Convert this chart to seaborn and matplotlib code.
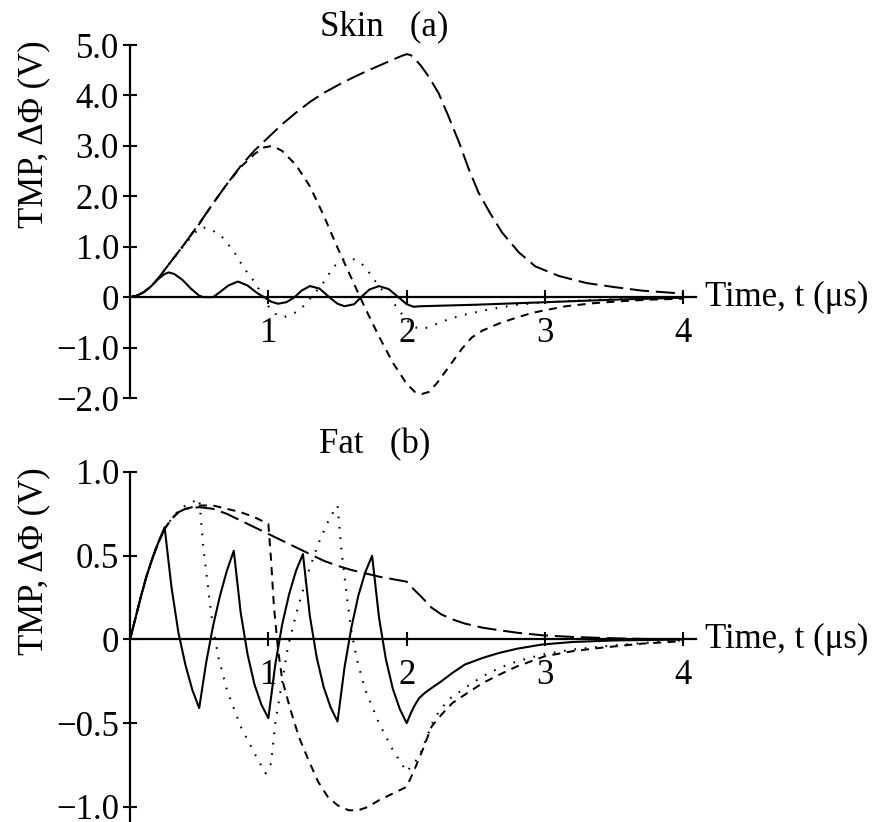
import numpy as np
import pandas as pd
import matplotlib
matplotlib.use("Agg")
import matplotlib.pyplot as plt
import seaborn as sns

# Panel (a) skin, membrane potential for 2, 1, 0.5 and 0.25 us pulses
skin_t_long = [0, 0.05, 0.1, 0.15, 0.2, 0.25, 0.3, 0.4, 0.5, 0.6, 0.7, 0.8, 0.9, 1.0, 1.1, 1.2, 1.3, 1.4,
               1.5, 1.6, 1.7, 1.8, 1.9, 1.96, 2.0, 2.03, 2.06, 2.1, 2.16, 2.23, 2.3, 2.38, 2.45, 2.52, 2.6,
               2.69, 2.81, 2.93, 3.1, 3.3, 3.5, 3.7, 3.85, 4.0]
skin_v_long = [0, 0.03, 0.1, 0.21, 0.36, 0.54, 0.72, 1.08, 1.46, 1.86, 2.24, 2.6, 2.91, 3.17, 3.43, 3.66,
               3.87, 4.05, 4.2, 4.34, 4.47, 4.59, 4.71, 4.78, 4.82, 4.8, 4.72, 4.6, 4.37, 4.05, 3.6, 3.06,
               2.53, 2.07, 1.68, 1.28, 0.89, 0.61, 0.42, 0.28, 0.2, 0.13, 0.1, 0.07]

skin_t_short = [0, 0.05, 0.1, 0.15, 0.2, 0.25, 0.3, 0.4, 0.5, 0.6, 0.7, 0.8, 0.9, 0.97, 1.03, 1.1, 1.2, 1.3,
                1.4, 1.5, 1.6, 1.7, 1.8, 1.9, 2.0, 2.06, 2.11, 2.16, 2.22, 2.3, 2.4, 2.47, 2.55, 2.67, 2.8,
                2.91, 3.0, 3.15, 3.35, 3.55, 3.75, 4.0]
skin_v_short = [0, 0.03, 0.1, 0.21, 0.36, 0.54, 0.72, 1.08, 1.45, 1.86, 2.24, 2.58, 2.84, 2.97, 3.0, 2.9, 2.62,
                2.2, 1.62, 0.98, 0.38, -0.22, -0.78, -1.3, -1.72, -1.88, -1.92, -1.88, -1.7, -1.4, -1.02,
                -0.8, -0.66, -0.52, -0.4, -0.31, -0.26, -0.18, -0.12, -0.08, -0.05, -0.03]

skin_t_dot = [0, 0.05, 0.1, 0.15, 0.2, 0.25, 0.3, 0.4, 0.5, 0.55, 0.6, 0.67, 0.75, 0.82, 0.9, 0.96, 1.0, 1.05,
              1.11, 1.18, 1.24, 1.33, 1.41, 1.47, 1.54, 1.61, 1.67, 1.72, 1.79, 1.88, 1.93, 1.99, 2.06, 2.12,
              2.2, 2.3, 2.4, 2.6, 2.8, 3.0, 3.3, 3.6, 4.0]
skin_v_dot = [0, 0.03, 0.1, 0.21, 0.36, 0.54, 0.72, 1.06, 1.37, 1.38, 1.32, 1.18, 0.91, 0.59, 0.3, 0.03, -0.18,
              -0.33, -0.4, -0.33, -0.22, 0.06, 0.33, 0.6, 0.75, 0.76, 0.68, 0.52, 0.25, -0.04, -0.2, -0.43,
              -0.6, -0.63, -0.55, -0.44, -0.36, -0.24, -0.15, -0.1, -0.06, -0.03, -0.01]

skin_t_solid = [0, 0.05, 0.1, 0.15, 0.2, 0.25, 0.28, 0.32, 0.38, 0.44, 0.5, 0.53, 0.6, 0.65, 0.71, 0.78, 0.85,
                0.92, 0.97, 1.02, 1.07, 1.13, 1.19, 1.24, 1.3, 1.37, 1.44, 1.5, 1.55, 1.62, 1.67, 1.73, 1.8,
                1.87, 1.94, 2.0, 2.05, 2.1, 2.5, 3.0, 3.5, 4.0]
skin_v_solid = [0, 0.03, 0.1, 0.21, 0.35, 0.46, 0.49, 0.46, 0.34, 0.17, 0.03, 0.0, 0.0, 0.1, 0.23, 0.31, 0.23,
                0.08, 0.0, -0.09, -0.13, -0.1, 0.0, 0.13, 0.22, 0.17, 0.0, -0.13, -0.18, -0.14, 0.0, 0.15,
                0.22, 0.16, 0.0, -0.14, -0.19, -0.18, -0.15, -0.1, -0.05, -0.01]

# Panel (b) fat
fat_t_long = [0, 0.04, 0.08, 0.12, 0.16, 0.2, 0.25, 0.3, 0.35, 0.4, 0.5, 0.6, 0.7, 0.8, 0.9, 1.0, 1.1, 1.2,
              1.3, 1.4, 1.5, 1.6, 1.7, 1.8, 1.9, 2.0, 2.05, 2.1, 2.18, 2.25, 2.33, 2.42, 2.55, 2.67, 2.8,
              2.98, 3.2, 3.5, 3.8, 4.0]
fat_v_long = [0, 0.13, 0.26, 0.38, 0.48, 0.57, 0.66, 0.72, 0.76, 0.78, 0.79, 0.78, 0.75, 0.71, 0.67, 0.63,
              0.59, 0.55, 0.51, 0.47, 0.44, 0.415, 0.395, 0.375, 0.36, 0.345, 0.3, 0.26, 0.19, 0.15, 0.12,
              0.095, 0.07, 0.055, 0.04, 0.025, 0.015, 0.007, 0.002, 0]

fat_t_short = [0, 0.04, 0.08, 0.12, 0.16, 0.2, 0.25, 0.3, 0.35, 0.4, 0.5, 0.6, 0.7, 0.8, 0.9, 1.0, 1.02, 1.04,
               1.07, 1.1, 1.16, 1.22, 1.29, 1.36, 1.43, 1.5, 1.58, 1.65, 1.72, 1.8, 1.9, 2.0, 2.06, 2.12,
               2.18, 2.25, 2.33, 2.42, 2.55, 2.67, 2.8, 3.0, 3.2, 3.4, 3.7, 4.0]
fat_v_short = [0, 0.13, 0.26, 0.38, 0.48, 0.57, 0.66, 0.72, 0.76, 0.78, 0.8, 0.8, 0.78, 0.76, 0.73, 0.69,
               0.47, 0.2, -0.06, -0.24, -0.42, -0.58, -0.72, -0.85, -0.94, -0.99, -1.02, -1.02, -1.0, -0.96,
               -0.92, -0.88, -0.77, -0.65, -0.52, -0.45, -0.38, -0.33, -0.26, -0.21, -0.16, -0.1, -0.07,
               -0.05, -0.025, -0.01]

fat_t_dot = [0, 0.04, 0.08, 0.12, 0.16, 0.2, 0.25, 0.3, 0.35, 0.4, 0.45, 0.5, 0.53, 0.57, 0.6, 0.64, 0.7,
             0.8, 0.9, 0.98, 1.02, 1.05, 1.1, 1.14, 1.2, 1.28, 1.36, 1.44, 1.5, 1.53, 1.57, 1.6, 1.64, 1.7,
             1.8, 1.9, 2.0, 2.09, 2.2, 2.3, 2.42, 2.55, 2.67, 2.8, 2.98, 3.2, 3.5, 3.8, 4.0]
fat_v_dot = [0, 0.13, 0.26, 0.38, 0.48, 0.57, 0.66, 0.72, 0.77, 0.8, 0.82, 0.84, 0.55, 0.27, 0.07, -0.11,
             -0.3, -0.52, -0.68, -0.8, -0.74, -0.5, -0.25, -0.05, 0.15, 0.38, 0.57, 0.72, 0.8, 0.52, 0.24,
             0.05, -0.12, -0.3, -0.5, -0.66, -0.79, -0.7, -0.47, -0.36, -0.29, -0.22, -0.17, -0.13, -0.09,
             -0.06, -0.035, -0.015, -0.005]

fat_t_solid = [0, 0.04, 0.08, 0.12, 0.16, 0.2, 0.25, 0.3, 0.35, 0.4, 0.45, 0.5, 0.55, 0.6, 0.65, 0.7, 0.75,
               0.8, 0.85, 0.9, 0.95, 1.0, 1.05, 1.1, 1.15, 1.2, 1.25, 1.3, 1.35, 1.4, 1.45, 1.5, 1.55, 1.6,
               1.65, 1.7, 1.75, 1.8, 1.85, 1.9, 1.95, 2.0, 2.03, 2.06, 2.09, 2.13, 2.18, 2.25, 2.33, 2.42,
               2.55, 2.67, 2.8, 2.98, 3.2, 3.5, 4.0]
fat_v_solid = [0, 0.13, 0.26, 0.38, 0.48, 0.57, 0.67, 0.31, 0.04, -0.15, -0.3, -0.41, -0.14, 0.08, 0.26, 0.41,
               0.53, 0.16, -0.09, -0.27, -0.39, -0.47, -0.15, 0.09, 0.27, 0.41, 0.51, 0.14, -0.11, -0.285,
               -0.405, -0.49, -0.17, 0.07, 0.26, 0.4, 0.5, 0.13, -0.12, -0.295, -0.415, -0.5, -0.44, -0.39,
               -0.35, -0.32, -0.29, -0.25, -0.2, -0.15, -0.11, -0.08, -0.055, -0.03, -0.015, -0.006, 0]

skin_yticks = [5, 4, 3, 2, 1, 0, -1, -2]
skin_ylabels = ["5.0", "4.0", "3.0", "2.0", "1.0", "0", "\u22121.0", "\u22122.0"]
fat_yticks = [1, 0.5, 0, -0.5, -1]
fat_ylabels = ["1.0", "0.5", "0", "\u22120.5", "\u22121.0"]
x_ticks = [1, 2, 3, 4]

sns.set_style("ticks")
plt.rcParams["font.family"] = ["Liberation Serif", "DejaVu Serif"]
plt.rcParams["text.color"] = "black"
plt.rcParams["axes.labelcolor"] = "black"

fig = plt.figure(figsize=(8.75, 8.22), dpi=100)
ax_a = fig.add_axes([0.1486, 0.5158, 0.6466, 0.4294])
ax_b = fig.add_axes([0.1486, 0.0, 0.6466, 0.4258])

styles = {
    "long": dict(linestyle=(0, (9.5, 3.4)), linewidth=1.45),
    "short": dict(linestyle=(0, (4, 3.2)), linewidth=1.45),
    "dot": dict(linestyle=(0, (0.8, 4.2)), linewidth=1.5),
    "solid": dict(linestyle="-", linewidth=1.5),
}

skin = [("long", skin_t_long, skin_v_long), ("short", skin_t_short, skin_v_short),
        ("dot", skin_t_dot, skin_v_dot), ("solid", skin_t_solid, skin_v_solid)]
fat = [("long", fat_t_long, fat_v_long), ("short", fat_t_short, fat_v_short),
       ("dot", fat_t_dot, fat_v_dot), ("solid", fat_t_solid, fat_v_solid)]


def draw_panel(ax, curves, ylim, yticks, ylabels, title, title_xy):
    for name, t, v in curves:
        df = pd.DataFrame({"t": t, "v": v})
        sns.lineplot(data=df, x="t", y="v", ax=ax, color="black", estimator=None, sort=False,
                     **styles[name])
    ax.set_xlim(0, 4.09)
    ax.set_ylim(*ylim)
    ax.spines["top"].set_visible(False)
    ax.spines["right"].set_visible(False)
    ax.spines["bottom"].set_position(("data", 0))
    for s in ["left", "bottom"]:
        ax.spines[s].set_linewidth(1.6)
        ax.spines[s].set_color("black")
    ax.set_xticks(x_ticks)
    ax.set_xticklabels([str(x) for x in x_ticks])
    ax.set_yticks(yticks)
    ax.set_yticklabels(ylabels)
    ax.tick_params(axis="both", direction="inout", length=10, width=1.5, labelsize=25,
                   colors="black", bottom=True, left=True)
    ax.tick_params(axis="x", pad=9)
    ax.tick_params(axis="y", pad=3)
    ax.set_xlabel("")
    ax.set_ylabel("TMP, \u0394\u03a6 (V)", fontsize=25)
    ax.text(4.16, 0, "Time, t (\u03bcs)", fontsize=25, ha="left", va="center", clip_on=False)
    ax.text(title_xy[0], title_xy[1], title, fontsize=25, ha="center", va="center", clip_on=False)
    ax.patch.set_alpha(0)


draw_panel(ax_a, skin, (-2, 5), skin_yticks, skin_ylabels, "Skin   (a)", (1.84, 5.36))
draw_panel(ax_b, fat, (-1.09, 1.0), fat_yticks, fat_ylabels, "Fat   (b)", (1.77, 1.16))
ax_a.yaxis.set_label_coords(-0.141, 0.748)
ax_b.yaxis.set_label_coords(-0.141, 0.746)

fig.savefig("out.png", dpi=100, facecolor="white")
